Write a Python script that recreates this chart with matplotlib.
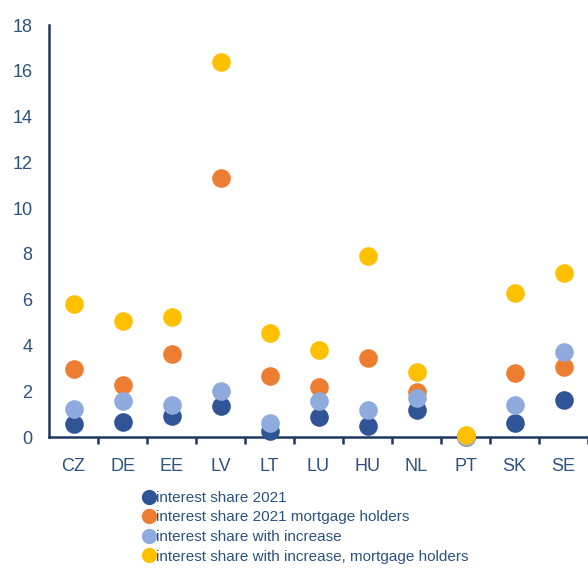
import matplotlib
matplotlib.use("Agg")
import matplotlib.pyplot as plt
from matplotlib.lines import Line2D

plt.rcParams['font.family'] = ['Liberation Sans', 'DejaVu Sans']

countries = ["CZ", "DE", "EE", "LV", "LT", "LU", "HU", "NL", "PT", "SK", "SE"]
share_2021 = [0.58, 0.67, 0.93, 1.35, 0.26, 0.89, 0.47, 1.16, 0.0, 0.61, 1.60]
share_2021_mortgage = [2.97, 2.27, 3.61, 11.31, 2.68, 2.18, 3.46, 1.95, 0.02, 2.79, 3.07]
share_increase = [1.22, 1.56, 1.38, 1.99, 0.60, 1.57, 1.18, 1.72, 0.01, 1.41, 3.70]
share_increase_mortgage = [5.79, 5.05, 5.25, 16.38, 4.54, 3.80, 7.90, 2.85, 0.07, 6.29, 7.16]
yticks = [0, 2, 4, 6, 8, 10, 12, 14, 16, 18]

series = [
    ("interest share 2021", share_2021, "#2f5597"),
    ("interest share 2021 mortgage holders", share_2021_mortgage, "#ed7d31"),
    ("interest share with increase", share_increase, "#8faadc"),
    ("interest share with increase, mortgage holders", share_increase_mortgage, "#ffc000"),
]

W, H = 588, 568
fig = plt.figure(figsize=(W / 100, H / 100), dpi=100)
ax = fig.add_axes([49 / W, 1 - 437 / H, (W - 49) / W, (437 - 25) / H])

axis_col = "#1f3864"
text_col = "#2b5280"
x = list(range(len(countries)))
for label, vals, col in series:
    ax.scatter(x, vals, s=180, color=col, zorder=3, linewidths=0, clip_on=False)

ax.set_xlim(-0.5, -0.5 + (W - 49) / 49.5)
ax.set_ylim(0, 18)
ax.set_yticks(yticks)
ax.set_yticklabels([str(t) for t in yticks])
ax.set_xticks(x)
ax.set_xticklabels(countries)
ax.set_xticks([i + 0.5 for i in range(len(countries))], minor=True)
ax.tick_params(axis="x", which="major", length=0, pad=15, labelsize=13, labelcolor=text_col)
ax.tick_params(axis="x", which="minor", length=5, width=1.8, color=axis_col, direction="out")
ax.tick_params(axis="y", length=0, pad=12, labelsize=13, labelcolor=text_col)
for s in ["top", "right"]:
    ax.spines[s].set_visible(False)
for s in ["left", "bottom"]:
    ax.spines[s].set_color(axis_col)
    ax.spines[s].set_linewidth(1.8)
ax.spines["bottom"].set_zorder(2)

handles = [Line2D([], [], marker="o", linestyle="none", markersize=11,
                  markerfacecolor=col, markeredgewidth=0) for _, _, col in series]
labels = [lab for lab, _, _ in series]
fig.legend(handles, labels, loc="upper left", bbox_to_anchor=(141 / W, 1 - 491 / H),
           frameon=False, handletextpad=0.0, handlelength=1.0, labelspacing=0.36,
           fontsize=11, labelcolor=text_col, borderaxespad=0, borderpad=0)

fig.savefig("out.png", dpi=100)
